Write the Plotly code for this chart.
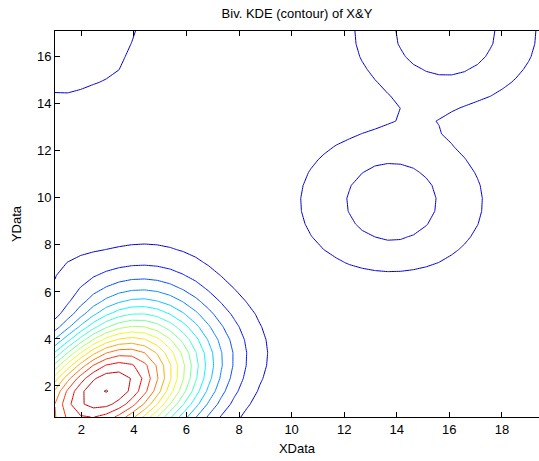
import numpy as np
import plotly.graph_objects as go

# ---------------------------------------------------------------
# Observations (X, Y) with their weights
# ---------------------------------------------------------------
# Dense group in the lower-left, binned on a 1.5-unit lattice
dense_x = [-0.2, 1.3, 2.8, 4.3, 5.8, 7.3, 8.8, 10.3]
dense_y = [-1.25, 0.25, 1.75, 3.25, 4.75, 6.25, 7.75, 9.25]
dense_w = [  # one row per dense_y value
    [3.51, 4.51, 3.40, 1.50, 0.45, 0.10, 0.02, 0.00],
    [6.90, 10.60, 9.89, 6.24, 2.10, 0.45, 0.08, 0.01],
    [4.06, 11.20, 14.00, 11.75, 6.32, 1.80, 0.33, 0.03],
    [0.50, 4.90, 10.61, 10.84, 6.92, 2.80, 0.70, 0.08],
    [0.00, 0.20, 4.00, 5.92, 3.98, 1.70, 0.50, 0.06],
    [0.20, 0.90, 1.75, 2.30, 1.75, 0.62, 0.13, 0.01],
    [0.25, 0.60, 0.45, 0.70, 0.55, 0.18, 0.04, 0.00],
    [0.00, 0.03, 0.08, 0.15, 0.11, 0.05, 0.01, 0.00],
]

# Lower loop of the figure-eight
loop_low_x = [16.65, 16.43, 15.82, 14.89, 13.80, 12.71, 11.79, 11.17,
              10.95, 11.17, 11.79, 12.71, 13.80, 14.89, 15.82, 16.43]
loop_low_y = [9.84, 10.80, 11.61, 12.15, 12.34, 12.15, 11.61, 10.80,
              9.84, 8.88, 8.07, 7.53, 7.34, 7.53, 8.07, 8.88]

# Upper loop of the figure-eight
loop_high_x = [18.75, 18.53, 17.90, 16.96, 15.85, 14.74, 13.80, 13.17,
               12.95, 13.17, 13.80, 14.74, 15.85, 16.96, 17.90, 18.53]
loop_high_y = [17.05, 18.07, 18.92, 19.50, 19.70, 19.50, 18.92, 18.07,
               17.05, 16.04, 15.18, 14.60, 14.40, 14.60, 15.18, 16.04]

# Sparse spread in the upper-left, binned on a 2-unit lattice
sparse_x = [-0.7, 1.3, 3.3, 5.3, 7.3]
sparse_y = [11.4, 13.4, 15.4, 17.4, 19.4]
sparse_w = [  # one row per sparse_y value
    [0.15, 0.20, 0.15, 0.07, 0.02],
    [0.58, 0.76, 0.58, 0.26, 0.07],
    [1.30, 1.70, 1.25, 0.42, 0.15],
    [1.70, 2.23, 1.70, 0.55, 0.20],
    [1.30, 1.70, 1.30, 0.42, 0.15],
]

x_ticks = [2, 4, 6, 8, 10, 12, 14, 16, 18]
y_ticks = [2, 4, 6, 8, 10, 12, 14, 16]

# ---------------------------------------------------------------
# Gather all observations
# ---------------------------------------------------------------
px, py, pw = [], [], []
for j, yv in enumerate(dense_y):
    for i, xv in enumerate(dense_x):
        px.append(xv); py.append(yv); pw.append(dense_w[j][i])
for j, yv in enumerate(sparse_y):
    for i, xv in enumerate(sparse_x):
        px.append(xv); py.append(yv); pw.append(sparse_w[j][i])
for xv, yv in zip(loop_low_x + loop_high_x, loop_low_y + loop_high_y):
    px.append(xv); py.append(yv); pw.append(1.0)
px = np.array(px); py = np.array(py); pw = np.array(pw)

# ---------------------------------------------------------------
# Bivariate Gaussian kernel density estimate on the evaluation grid
# ---------------------------------------------------------------
bandwidth = 1.0
gx = np.linspace(1.0, 19.5, 39)
gy = np.linspace(0.68, 17.1, 31)
GX, GY = np.meshgrid(gx, gy)
d2 = (GX[..., None] - px) ** 2 + (GY[..., None] - py) ** 2
Z = (pw * np.exp(-d2 / (2 * bandwidth ** 2))).sum(axis=-1)
Z /= 2 * np.pi * bandwidth ** 2 * pw.sum()

n_levels = 17
zmax = Z.max()
step = zmax / 17.05


def jet(t):
    r = min(max(min(4 * t - 1.5, -4 * t + 4.5), 0), 1)
    g = min(max(min(4 * t - 0.5, -4 * t + 3.5), 0), 1)
    b = min(max(min(4 * t + 0.5, -4 * t + 2.5), 0), 1)
    return f"rgb({round(r * 255)},{round(g * 255)},{round(b * 255)})"


# line colours: jet colormap spread over the contour levels
colorscale = [[(k - 1) / (n_levels - 1), jet((k + 0.5) / (n_levels + 0.55))]
              for k in range(1, n_levels + 1)]

fig = go.Figure(go.Contour(
    x=gx, y=gy, z=Z,
    autocontour=False,
    contours=dict(start=step, end=(n_levels + 0.001) * step, size=step,
                  coloring="lines", showlabels=False),
    colorscale=colorscale,
    showscale=False,
    line=dict(width=1, smoothing=0),
    hoverinfo="skip",
))

axis_font = dict(family="Liberation Sans, Arial, sans-serif", size=13, color="black")

fig.update_layout(
    width=539, height=461,
    margin=dict(l=55, r=0, t=31, b=44),
    paper_bgcolor="white", plot_bgcolor="white",
    font=axis_font,
    showlegend=False,
    title=dict(text="Biv. KDE (contour) of X&Y", x=0.5, xref="paper",
               y=1 - 13.5 / 461, yref="container", yanchor="middle",
               xanchor="center", font=axis_font),
)
fig.update_xaxes(
    range=[1, 19.41], tickvals=x_ticks, ticks="inside", ticklen=5,
    tickwidth=1, tickcolor="black", showline=True, linecolor="black",
    linewidth=1, mirror="ticks", showgrid=False, zeroline=False,
    title=dict(text="XData", standoff=8, font=axis_font), tickfont=axis_font,
)
fig.update_yaxes(
    range=[0.68, 17.1], tickvals=y_ticks, ticks="inside", ticklen=5,
    tickwidth=1, tickcolor="black", showline=True, linecolor="black",
    linewidth=1, mirror=False, showgrid=False, zeroline=False,
    title=dict(text="YData", standoff=12, font=axis_font), tickfont=axis_font,
)

fig.write_html("out.html")
